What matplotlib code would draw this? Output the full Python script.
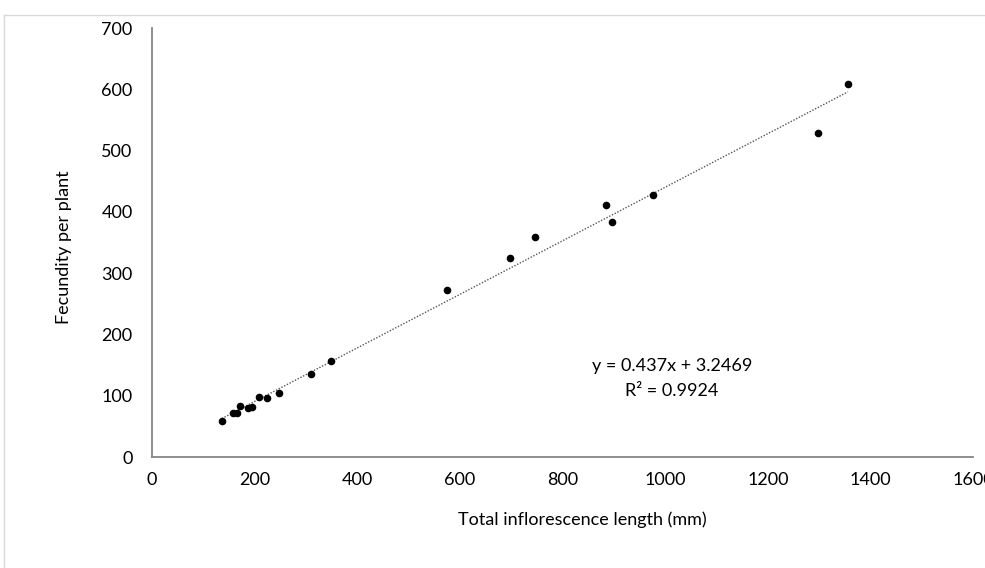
import matplotlib
matplotlib.use("Agg")
import matplotlib.pyplot as plt
from matplotlib.lines import Line2D
import numpy as np

plt.rcParams['font.family'] = ['Lato', 'DejaVu Sans']

# inflorescence length (mm) vs fecundity per plant
length_mm = [136, 157, 165, 172, 187, 195, 209, 225, 248, 310, 348,
             575, 698, 746, 885, 897, 977, 1298, 1356]
fecundity = [59, 72, 72, 83, 80, 82, 98, 97, 105, 135, 156,
             273, 325, 359, 412, 384, 428, 528, 609]

slope = 0.437
intercept = 3.2469
r2 = 0.9924

xticks = [0, 200, 400, 600, 800, 1000, 1200, 1400, 1600]
yticks = [0, 100, 200, 300, 400, 500, 600, 700]

fs = 13

fig = plt.figure(figsize=(9.85, 5.68), dpi=100)
ax = fig.add_axes([0.1543, 0.1954, 0.988 - 0.1543, 0.9507 - 0.1954])

# light chart border (top and left)
border = "#d9d9d9"
fig.add_artist(Line2D([4 / 985, 1.0], [1 - 15 / 568, 1 - 15 / 568], color=border, lw=1))
fig.add_artist(Line2D([4 / 985, 4 / 985], [0.0, 1 - 15 / 568], color=border, lw=1))

ax.scatter(length_mm, fecundity, s=20, color="black", zorder=3)

xs = np.array([min(length_mm), max(length_mm)])
ax.plot(xs, slope * xs + intercept, linestyle=(0, (1, 1.2)), color="#555555", lw=1.0, zorder=2)

ax.text(1013, 149, "y = %.3fx + %.4f" % (slope, intercept), ha="center", va="center", fontsize=fs)
ax.text(1013, 108, "R² = %.4f" % r2, ha="center", va="center", fontsize=fs)

ax.set_xlim(0, 1600)
ax.set_ylim(0, 700)
ax.set_xticks(xticks)
ax.set_yticks(yticks)
ax.tick_params(length=0, labelsize=fs, colors="#000000")
ax.tick_params(axis="x", pad=11)
ax.tick_params(axis="y", pad=14)

for side in ["top", "right"]:
    ax.spines[side].set_visible(False)
for side in ["left", "bottom"]:
    ax.spines[side].set_color("#868686")
    ax.spines[side].set_linewidth(1.3)

ax.set_xlabel("Total inflorescence length (mm)", fontsize=fs)
ax.set_ylabel("Fecundity per plant", fontsize=fs)
ax.xaxis.set_label_coords(0.524, -0.128)
ax.yaxis.set_label_coords(-0.098, 0.488)

fig.savefig("out.png", dpi=100)
